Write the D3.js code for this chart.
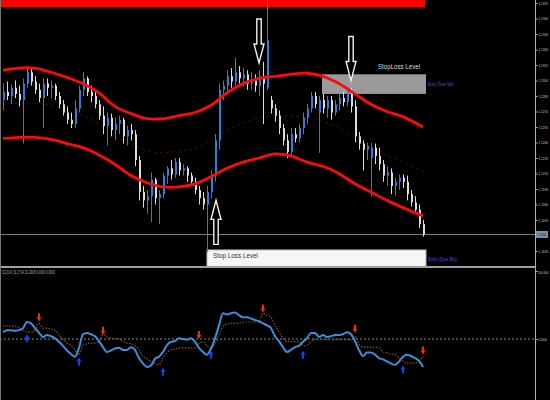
<!DOCTYPE html>
<meta charset="utf-8">
<style>
body { margin: 0; background: #000; }
svg { display: block; font-family: "Liberation Sans", Arial, sans-serif; }
.axis path, .axis line { stroke: #b0b0b0; }
.axis text { fill: #c8c8c8; font-size: 4.2px; }
</style>
<svg width="550" height="400"></svg>
<script src="https://cdn.jsdelivr.net/npm/d3@7"></script>
<script>

// price bars (bar index 0..105)
var open = [
  1.1281,1.1289,1.1285,1.1293,1.1287,1.1281,1.1297,1.1308,1.1299,1.1291,
  1.1283,1.1297,1.1293,1.1295,1.1285,1.1277,1.1269,1.1262,1.1258,1.1273,
  1.1291,1.1302,1.1289,1.1285,1.1277,1.1266,1.1256,1.1264,1.1252,1.1258,
  1.1262,1.1246,1.1252,1.1248,1.1223,1.1192,1.1184,1.1188,1.1204,1.1186,
  1.1190,1.1208,1.1215,1.1209,1.1221,1.1213,1.1215,1.1208,1.1202,1.1194,
  1.1186,1.1180,1.1192,1.1208,1.1242,1.1291,1.1295,1.1304,1.1299,1.1308,
  1.1302,1.1306,1.1297,1.1300,1.1295,1.1304,1.1293,1.1281,1.1273,1.1266,
  1.1254,1.1242,1.1231,1.1248,1.1244,1.1254,1.1264,1.1273,1.1285,1.1269,
  1.1281,1.1273,1.1281,1.1269,1.1277,1.1283,1.1279,1.1289,1.1275,1.1246,
  1.1239,1.1233,1.1225,1.1235,1.1227,1.1219,1.1208,1.1211,1.1198,1.1202,
  1.1206,1.1202,1.1190,1.1182,1.1175,1.1161];
var high = [
  1.1297,1.1299,1.1296,1.1300,1.1295,1.1302,1.1314,1.1312,1.1304,1.1297,
  1.1302,1.1302,1.1300,1.1297,1.1289,1.1281,1.1275,1.1269,1.1281,1.1295,
  1.1308,1.1304,1.1295,1.1291,1.1281,1.1275,1.1269,1.1268,1.1264,1.1266,
  1.1264,1.1256,1.1258,1.1252,1.1227,1.1198,1.1194,1.1211,1.1206,1.1194,
  1.1211,1.1217,1.1223,1.1225,1.1225,1.1219,1.1217,1.1211,1.1206,1.1198,
  1.1192,1.1198,1.1213,1.1248,1.1297,1.1300,1.1310,1.1312,1.1322,1.1314,
  1.1312,1.1310,1.1308,1.1306,1.1310,1.1318,1.1378,1.1285,1.1277,1.1271,
  1.1258,1.1248,1.1254,1.1254,1.1258,1.1269,1.1277,1.1289,1.1289,1.1285,
  1.1287,1.1285,1.1285,1.1281,1.1287,1.1289,1.1293,1.1293,1.1281,1.1250,
  1.1242,1.1240,1.1240,1.1239,1.1235,1.1223,1.1217,1.1215,1.1206,1.1209,
  1.1209,1.1208,1.1194,1.1188,1.1180,1.1165];
var low = [
  1.1271,1.1281,1.1277,1.1283,1.1275,1.1239,1.1293,1.1295,1.1287,1.1279,
  1.1254,1.1285,1.1283,1.1281,1.1273,1.1266,1.1258,1.1254,1.1254,1.1269,
  1.1285,1.1285,1.1279,1.1273,1.1262,1.1248,1.1237,1.1246,1.1242,1.1248,
  1.1239,1.1237,1.1242,1.1217,1.1184,1.1177,1.1171,1.1163,1.1180,1.1161,
  1.1186,1.1200,1.1204,1.1206,1.1208,1.1208,1.1202,1.1198,1.1190,1.1180,
  1.1175,1.1134,1.1186,1.1202,1.1233,1.1281,1.1289,1.1293,1.1295,1.1297,
  1.1295,1.1291,1.1291,1.1289,1.1285,1.1258,1.1291,1.1268,1.1260,1.1248,
  1.1237,1.1225,1.1227,1.1240,1.1240,1.1248,1.1258,1.1269,1.1273,1.1230,
  1.1268,1.1264,1.1262,1.1266,1.1271,1.1275,1.1275,1.1269,1.1240,1.1233,
  1.1213,1.1223,1.1188,1.1219,1.1213,1.1202,1.1198,1.1190,1.1188,1.1194,
  1.1196,1.1184,1.1178,1.1171,1.1157,1.1149];
var close = [
  1.1289,1.1285,1.1293,1.1287,1.1281,1.1297,1.1308,1.1299,1.1291,1.1283,
  1.1297,1.1293,1.1295,1.1285,1.1277,1.1269,1.1262,1.1258,1.1273,1.1291,
  1.1302,1.1289,1.1285,1.1277,1.1266,1.1256,1.1264,1.1252,1.1258,1.1262,
  1.1246,1.1252,1.1248,1.1223,1.1192,1.1184,1.1188,1.1204,1.1186,1.1190,
  1.1208,1.1215,1.1209,1.1221,1.1213,1.1215,1.1208,1.1202,1.1194,1.1186,
  1.1180,1.1192,1.1208,1.1242,1.1291,1.1295,1.1304,1.1299,1.1308,1.1302,
  1.1306,1.1297,1.1300,1.1295,1.1304,1.1297,1.1339,1.1273,1.1266,1.1254,
  1.1242,1.1231,1.1248,1.1244,1.1254,1.1264,1.1273,1.1285,1.1277,1.1281,
  1.1273,1.1281,1.1269,1.1277,1.1283,1.1279,1.1289,1.1275,1.1246,1.1239,
  1.1233,1.1237,1.1235,1.1227,1.1219,1.1208,1.1211,1.1198,1.1202,1.1206,
  1.1202,1.1190,1.1182,1.1175,1.1161,1.1151];

// envelope bands, sampled at these bars
var bandBars  = [0,4,8,12,16,20,24,28,32,36,40,44,48,52,56,60,64,68,72,76,80,84,88,92,96,100,105];
var bandUpper = [1.1310,1.1312,1.1312,1.1308,1.1303,1.1297,1.1288,1.1275,1.1268,1.1263,1.1263,1.1266,1.1269,
                 1.1276,1.1288,1.1297,1.1302,1.1304,1.1306,1.1307,1.1304,1.1297,1.1287,1.1277,1.1270,1.1265,1.1255];
var bandMid   = [1.1277,1.1278,1.1278,1.1276,1.1271,1.1266,1.1258,1.1247,1.1238,1.1232,1.1230,1.1232,1.1234,
                 1.1242,1.1252,1.1259,1.1264,1.1266,1.1266,1.1264,1.1260,1.1254,1.1244,1.1234,1.1227,1.1221,1.1212];
var bandLower = [1.1244,1.1245,1.1245,1.1243,1.1239,1.1235,1.1228,1.1219,1.1208,1.1201,1.1197,1.1197,1.1200,
                 1.1207,1.1215,1.1221,1.1225,1.1229,1.1227,1.1221,1.1217,1.1210,1.1200,1.1192,1.1184,1.1177,1.1169];

// 1.1150 sits under the current price label
var priceTicks = [1.1375,1.1360,1.1345,1.1330,1.1315,1.1300,1.1285,1.1270,1.1255,1.1240,
                  1.1225,1.1210,1.1195,1.1180,1.1165,1.1135];

// hollow arrows on the price chart
var downArrowBars = [64, 87], downArrowTips = [1.1317, 1.1300];
var upArrowBars = [53], upArrowTips = [1.1184];

// zones
var zoneNames  = ["StopLoss Level", "Stop Loss Level"];
var zoneTags   = ["Entry Zone Sell", "Entry Zone Buy"];
var zoneFrom   = [79.75, 51];
var zoneTop    = [1.1306, 1.1136];
var zoneBottom = [1.1287, 1.1120];

// oscillator window
var oscTitle = "CCI(14) 31.2714 31.2918 0.0000 0.0000";
var osc = [
  10,13,13,12,13,16,25,23,16,9,
  3,6,4,1,-4,-10,-17,-22,-26,-13,
  7,9,7,4,-3,-12,-19,-17,-14,-13,
  -16,-16,-12,-16,-28,-36,-41,-39,-29,-26,
  -19,-9,-4,-3,1,0,-1,1,-4,-13,
  -19,-23,-14,1,20,38,36,38,39,35,
  32,32,30,28,26,23,20,16,4,-3,
  -12,-19,-16,-12,-10,-4,1,9,9,3,
  6,3,4,6,6,7,10,7,-3,-16,
  -25,-20,-20,-23,-28,-30,-33,-36,-38,-33,
  -26,-23,-25,-28,-32,-41];
var oscSignal = [
  19,19,19,19,17,13,10,10,13,23,
  16,16,15,13,6,0,-6,-9,-16,-23,
  -9,-7,-6,-6,-4,7,3,1,1,0,
  -3,-6,-7,-10,-16,-26,-29,-33,-36,-38,
  -28,-20,-16,-15,-13,-13,-13,-13,-13,-7,
  -4,-10,-15,-7,6,19,22,23,23,23,
  25,25,25,25,25,38,35,32,20,10,
  1,-4,-4,-4,-4,-10,-9,-4,-1,-1,
  -1,-1,-1,-1,-1,-1,-1,-1,4,-7,
  -12,-12,-12,-12,-13,-19,-20,-22,-23,-28,
  -33,-35,-35,-35,-33,-25];
var oscTicks = [100, 0];
var sellBars = [9, 25, 49, 65, 88, 105], sellLevels = [32, 12, 6, 45, 15, -17];
var buyBars  = [6, 19, 40, 52, 75, 100], buyLevels  = [1, -33, -48, -23, -23, -45];

var svg = d3.select("svg"),
    axisX = 535;

var x = d3.scaleLinear().domain([0, 105]).range([3, 423]);
var y = d3.scaleLinear().domain([1.1375, 1.1135]).range([3, 251]);
var y2 = d3.scaleLinear().domain([100, 0]).range([271, 339]);

svg.append("rect").attr("width", 550).attr("height", 400).attr("fill", "#000");

// red bar along the top
svg.append("rect")
    .attr("x", 0).attr("y", 0)
    .attr("width", x(105.5)).attr("height", 7)
    .attr("fill", "#ff0000");

// stop loss zones
zoneNames.forEach(function(name, k) {
  var x0 = x(zoneFrom[k]), x1 = x(105.75),
      top = y(zoneTop[k]), bot = y(zoneBottom[k]);
  svg.append("rect")
      .attr("x", x0).attr("y", top)
      .attr("width", x1 - x0).attr("height", bot - top)
      .attr("fill", k == 0 ? "#9a9a9a" : "#f6f6f6")
      .attr("stroke", k == 0 ? "none" : "#bbb");
  if (k == 0) {
    svg.append("text")
        .attr("x", x1 - 6).attr("y", top - 5)
        .attr("text-anchor", "end")
        .attr("font-size", 8).attr("fill", "#d8d8d8")
        .attr("textLength", 42).attr("lengthAdjust", "spacingAndGlyphs")
        .text(name);
  } else {
    svg.append("text")
        .attr("x", x0 + 6).attr("y", top + 8.5)
        .attr("font-size", 8).attr("fill", "#333")
        .attr("textLength", 45).attr("lengthAdjust", "spacingAndGlyphs")
        .text(name);
  }
  svg.append("text")
      .attr("x", x1 + 2).attr("y", k == 0 ? (top + bot) / 2 + 2 : top + 11)
      .attr("font-size", 5).attr("fill", "#7a3ce0")
      .attr("textLength", k == 0 ? 25 : 29).attr("lengthAdjust", "spacingAndGlyphs")
      .text(zoneTags[k]);
});

// current price line
var last = close[close.length - 1];
svg.append("line")
    .attr("x1", 0).attr("x2", axisX)
    .attr("y1", Math.round(y(last)) + 0.5).attr("y2", Math.round(y(last)) + 0.5)
    .attr("stroke", "#6f7c8a");

// bands
function bandLine(values) {
  return d3.line()
      .x(function(d, k) { return x(bandBars[k]); })
      .y(function(d) { return y(d); })
      .curve(d3.curveCatmullRom)(values);
}
svg.append("path").attr("d", bandLine(bandMid))
    .attr("fill", "none").attr("stroke", "#4a0606").attr("stroke-dasharray", "3,3");

// candles
var bars = d3.range(open.length);
var candle = svg.append("g").selectAll("g")
    .data(bars)
  .enter().append("g")
    .attr("fill", function(i) { return close[i] >= open[i] ? "#1e86e6" : "#dcdcdc"; })
    .attr("stroke", function(i) { return close[i] >= open[i] ? "#1e86e6" : "#dcdcdc"; });

candle.append("line")
    .attr("x1", function(i) { return Math.round(x(i)) + 0.5; })
    .attr("x2", function(i) { return Math.round(x(i)) + 0.5; })
    .attr("y1", function(i) { return y(high[i]); })
    .attr("y2", function(i) { return y(low[i]); });

candle.append("rect")
    .attr("stroke", "none")
    .attr("x", function(i) { return Math.round(x(i)); })
    .attr("width", 2)
    .attr("y", function(i) { return y(Math.max(open[i], close[i])); })
    .attr("height", function(i) { return Math.max(1, Math.abs(y(open[i]) - y(close[i]))); });

[bandUpper, bandLower].forEach(function(b) {
  svg.append("path").attr("d", bandLine(b))
      .attr("fill", "none").attr("stroke", "#ff0a0a").attr("stroke-width", 2.8);
});

// hollow arrows
function bigArrow(cx, tip, dir) {
  var len = 44, head = 19, s = 2.2, w = 5;
  var hs = tip - dir * head, tail = tip - dir * len;
  return "M" + (cx - s) + "," + tail + "L" + (cx + s) + "," + tail +
         "L" + (cx + s) + "," + hs + "L" + (cx + w) + "," + hs +
         "L" + cx + "," + tip + "L" + (cx - w) + "," + hs +
         "L" + (cx - s) + "," + hs + "Z";
}
downArrowBars.forEach(function(b, k) {
  svg.append("path").attr("d", bigArrow(x(b), y(downArrowTips[k]), 1))
      .attr("fill", "#000").attr("stroke", "#f0f0f0").attr("stroke-width", 1.4);
});
upArrowBars.forEach(function(b, k) {
  svg.append("path").attr("d", bigArrow(x(b) + 1, y(upArrowTips[k]), -1))
      .attr("fill", "#000").attr("stroke", "#f0f0f0").attr("stroke-width", 1.4);
});

// window separator, borders
svg.append("line").attr("x1", 0).attr("x2", axisX).attr("y1", 267).attr("y2", 267)
    .attr("stroke", "#a0a0a0").attr("stroke-width", 2);
svg.append("line").attr("x1", 0.5).attr("x2", 0.5).attr("y1", 0).attr("y2", 400)
    .attr("stroke", "#777");
svg.append("line").attr("x1", axisX + 0.5).attr("x2", axisX + 0.5).attr("y1", 0).attr("y2", 400)
    .attr("stroke", "#b0b0b0");

// price axis
var priceAxis = svg.append("g")
    .attr("class", "axis")
    .attr("transform", "translate(" + (axisX + 0.5) + ",0)")
    .call(d3.axisRight(y).tickValues(priceTicks).tickSize(2).tickSizeOuter(0).tickPadding(1)
      .tickFormat(d3.format(".4f")));
priceAxis.select(".domain").remove();
priceAxis.selectAll("text").attr("textLength", 9.5).attr("lengthAdjust", "spacingAndGlyphs");

svg.append("rect")
    .attr("x", axisX + 1).attr("y", y(last) - 3.5)
    .attr("width", 12).attr("height", 7)
    .attr("fill", "#7d93ab");
svg.append("text")
    .attr("x", axisX + 2).attr("y", y(last) + 1.6)
    .attr("font-size", 4.2).attr("fill", "#101820")
    .attr("textLength", 9.5).attr("lengthAdjust", "spacingAndGlyphs")
    .text(d3.format(".4f")(last));

// oscillator window
svg.append("text")
    .attr("x", 2).attr("y", 274)
    .attr("font-size", 5).attr("fill", "#b0b0b0")
    .attr("textLength", 53).attr("lengthAdjust", "spacingAndGlyphs")
    .text(oscTitle);

svg.append("line")
    .attr("x1", 0).attr("x2", axisX)
    .attr("y1", y2(0)).attr("y2", y2(0))
    .attr("stroke", "#8a8a8a").attr("stroke-dasharray", "2,2");

var oscAxis = svg.append("g")
    .attr("class", "axis")
    .attr("transform", "translate(" + (axisX + 0.5) + ",0)")
    .call(d3.axisRight(y2).tickValues(oscTicks).tickSize(2).tickSizeOuter(0).tickPadding(0.5)
      .tickFormat(d3.format(".4f")));
oscAxis.select(".domain").remove();
oscAxis.selectAll("text")
    .style("font-size", "3.3px")
    .attr("dy", function(d) { return d == 100 ? "0.9em" : "0.32em"; })
    .attr("textLength", function(d) { return d == 0 ? 9 : 10.5; })
    .attr("lengthAdjust", "spacingAndGlyphs");

var oscLine = d3.line()
    .x(function(d, i) { return x(i); })
    .y(function(d) { return y2(d); })
    .curve(d3.curveMonotoneX);

svg.append("path").attr("d", oscLine(oscSignal))
    .attr("fill", "none").attr("stroke", "#8a5a12").attr("stroke-width", 1.2)
    .attr("stroke-dasharray", "1.5,1.5");
svg.append("path").attr("d", oscLine(osc))
    .attr("fill", "none").attr("stroke", "#3d8fda").attr("stroke-width", 2);

// signal arrows
function smallArrow(cx, cy, dir) {
  return "M" + (cx - 1) + "," + (cy - dir * 4) + "L" + (cx + 1) + "," + (cy - dir * 4) +
         "L" + (cx + 1) + "," + cy + "L" + (cx + 2.5) + "," + cy +
         "L" + cx + "," + (cy + dir * 4) + "L" + (cx - 2.5) + "," + cy +
         "L" + (cx - 1) + "," + cy + "Z";
}
sellBars.forEach(function(b, k) {
  svg.append("path").attr("d", smallArrow(x(b), y2(sellLevels[k]), 1)).attr("fill", "#ff2020");
});
buyBars.forEach(function(b, k) {
  svg.append("path").attr("d", smallArrow(x(b), y2(buyLevels[k]), -1)).attr("fill", "#1a3cff");
});

</script>
